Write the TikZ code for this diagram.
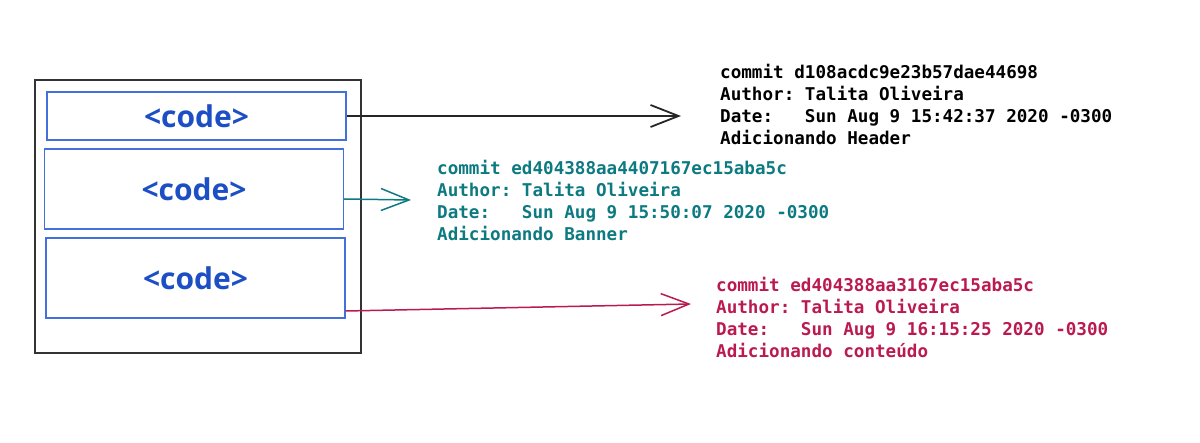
\documentclass[tikz,border=0pt]{standalone}
\usepackage{fontspec}
\setmonofont{DejaVu Sans Mono}
\newfontfamily\codefont{Open Sans}
\usetikzlibrary{arrows.meta}

\definecolor{codeblue}{HTML}{1C4FC4}
\definecolor{boxblue}{HTML}{4270DC}
\definecolor{committeal}{HTML}{0C7A80}
\definecolor{commitred}{HTML}{BA1A50}

\begin{document}
\begin{tikzpicture}[
  x=1pt, y=-1pt,
  codebox/.style={draw=boxblue, line width=1.3pt, minimum width=299pt, inner sep=0pt,
    text=codeblue, font=\codefont\bfseries\fontsize{30}{32}\selectfont},
  commit/.style={anchor=north west, inner sep=0pt, align=left,
    font=\ttfamily\bfseries\fontsize{17.6}{22}\selectfont},
  link/.style={line width=1.5pt, -{Straight Barb[length=28pt, width=22pt]}}
]
\useasboundingbox (0,0) rectangle (1200,443);

\node [draw=black!80, line width=1.8pt, minimum width=326pt, minimum height=273pt] (page) at (198,216.5) {};
\node [codebox, minimum height=48pt] (code1) at (196.5,116) {<code>};
\node [codebox, minimum height=80pt] (code2) at (194,189) {<code>};
\node [codebox, minimum height=80pt] (code3) at (195.5,278) {<code>};

\node [commit] (header) at (720,64) {commit d108acdc9e23b57dae44698\\Author: Talita Oliveira\\Date:~~~Sun Aug 9 15:42:37 2020 -0300\\Adicionando Header};
\node [commit, text=committeal] (banner) at (437,160) {commit ed404388aa4407167ec15aba5c\\Author: Talita Oliveira\\Date:~~~Sun Aug 9 15:50:07 2020 -0300\\Adicionando Banner};
\node [commit, text=commitred] (content) at (716,277) {commit ed404388aa3167ec15aba5c\\Author: Talita Oliveira\\Date:~~~Sun Aug 9 16:15:25 2020 -0300\\Adicionando conteúdo};

\coordinate (tip1) at (681,116);
\coordinate (tip2) at (411,200);
\coordinate (tip3) at (691,304);
\draw [link, line width=1.8pt, black!85] (code1.east) -- (tip1);
\draw [link, committeal] ([yshift=-10pt]code2.east) -- (tip2);
\draw [link, commitred] ([yshift=-33pt]code3.east) -- (tip3);

\end{tikzpicture}
\end{document}
